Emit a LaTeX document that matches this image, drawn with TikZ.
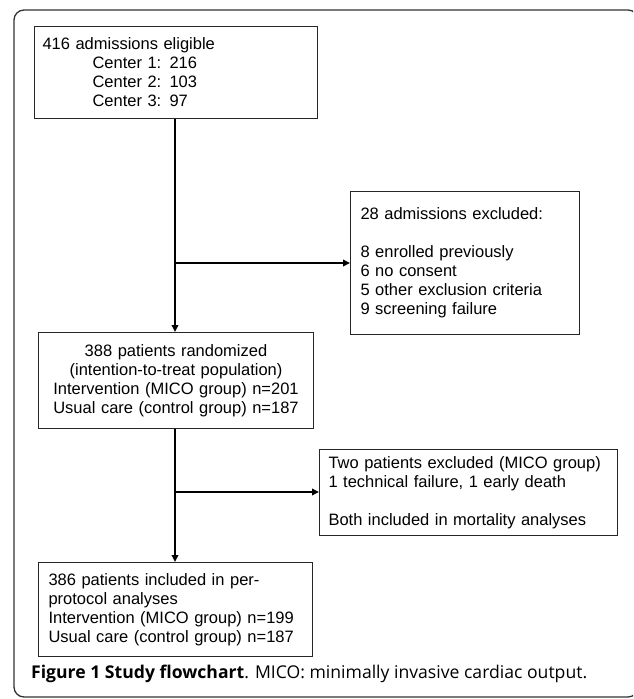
\documentclass[tikz,border=0pt]{standalone}
\usepackage{fontspec}
\setmainfont{Liberation Sans}
\newfontfamily\capfont{Open Sans}
\usetikzlibrary{arrows.meta}
\begin{document}
\begin{tikzpicture}[x=1pt,y=-1pt,
  box/.style={draw=black!85, line width=1pt, anchor=north west, inner ysep=0pt,
    font=\fontsize{16.5}{19}\selectfont},
  conn/.style={line width=2pt, black},
  arr/.style={conn, -{Triangle[length=7pt,width=6.5pt]}}]
\useasboundingbox (0,0) rectangle (633,699);
\begin{scope}
\clip (0,0) rectangle (633,699);
\draw[line width=1.3pt, black!80, rounded corners=10pt] (14,10) rectangle (638,697);
\end{scope}

\node[box, text width=267pt, inner xsep=8pt, minimum height=92pt, align=left] (b1) at (34,26)
  {416 admissions eligible\\
   \hspace*{50pt}Center 1: 216\\
   \hspace*{50pt}Center 2: 103\\
   \hspace*{50pt}Center 3: 97};

\node[box, text width=209pt, inner xsep=10pt, minimum height=143pt, align=left] (b2) at (350,191)
  {28 admissions excluded:\\[19pt]
   8 enrolled previously\\
   6 no consent\\
   5 other exclusion criteria\\
   9 screening failure};

\node[box, text width=265pt, inner xsep=5pt, minimum height=96pt, align=center] (b3) at (38,332)
  {388 patients randomized\\
   (intention-to-treat population)\\
   Intervention (MICO group) n=201\\
   Usual care (control group) n=187};

\node[box, text width=280pt, inner xsep=9pt, minimum height=86pt, align=left] (b5) at (319,449)
  {Two patients excluded (MICO group)\\
   1 technical failure, 1 early death\\[19pt]
   Both included in mortality analyses};

\node[box, text width=254pt, inner xsep=10pt, minimum height=94pt, align=left] (b4) at (38,562)
  {386 patients included in per-\\
   protocol analyses\\
   Intervention (MICO group) n=199\\
   Usual care (control group) n=187};

\coordinate (j1) at (175,263);
\coordinate (j2) at (175,492);

\draw[arr] (b1.south -| j1) -- (b3.north -| j1);
\draw[arr] (j1) -- (j1 -| b2.west);
\draw[arr] (b3.south -| j2) -- (b4.north -| j2);
\draw[arr] (j2) -- (j2 -| b5.west);

\node[anchor=west, inner sep=0pt, font=\capfont\fontsize{17.6}{20}\selectfont] (cap) at (31,674)
  {\textbf{Figure 1 Study flowchart}. MICO: minimally invasive cardiac output.};
\end{tikzpicture}
\end{document}
